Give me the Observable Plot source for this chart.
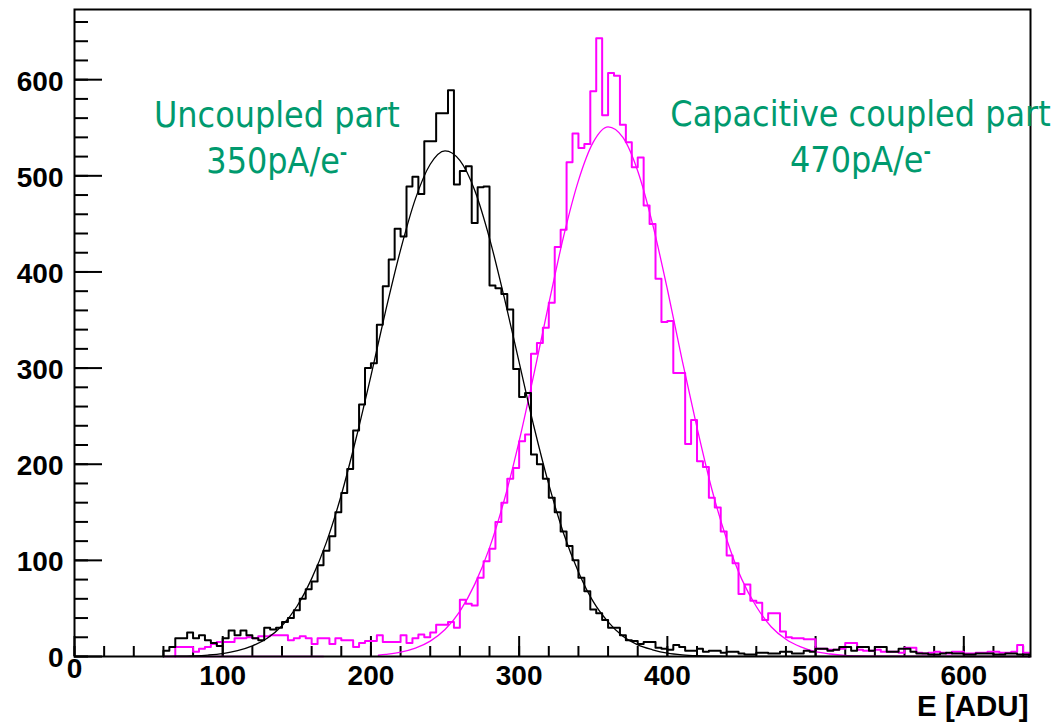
<!DOCTYPE html>
<html><head><meta charset="utf-8">
<script src="https://cdn.jsdelivr.net/npm/d3@7"></script>
<script src="https://cdn.jsdelivr.net/npm/@observablehq/plot@0.6"></script>
<style>html,body{margin:0;padding:0;background:#fff;} #chart svg{display:block;}</style>
</head><body><div id="chart"></div>
<script>
// ---- data ----
const binWidth = 4;                 // ADU per histogram bin
const blackStart = 60;              // first non-empty bin of the uncoupled histogram
const blackCounts = [
  6,10,19,19,25,19,22,17,14,11,
  19,27,22,27,22,19,17,30,28,30,
  36,40,48,60,70,78,95,110,125,150,
  170,195,235,262,300,305,345,385,413,445,
  437,489,499,481,536,536,565,565,589,491,
  505,510,451,488,489,386,383,377,361,299,
  270,274,210,200,185,165,150,130,115,100,
  82,68,49,45,38,30,30,22,17,16,
  13,15,15,9,8,7,12,10,6,6,
  8,5,6,6,4,5,5,3,2,2,
  4,4,3,3,5,5,3,3,6,5,
  8,8,6,7,10,10,6,10,10,6,
  10,10,5,5,8,8,5,3,3,2,
  2,3,4,3,3,2,2,3,3,3,
  2,2,3,3,2,2
];
const magentaStart = 68;            // first non-empty bin of the capacitive coupled histogram
const magentaCounts = [
  10,10,10,5,8,10,13,15,15,15,
  19,19,20,19,21,21,22,22,22,17,
  19,21,19,13,19,19,13,19,17,17,
  10,14,16,16,22,15,15,15,22,14,
  19,23,20,25,33,33,36,30,59,55,
  53,82,99,112,140,160,185,196,224,231,
  315,326,342,368,426,444,514,544,529,533,
  588,643,563,607,604,553,535,509,519,469,
  450,393,348,349,295,295,221,246,203,197,
  165,155,130,105,97,65,75,58,56,38,
  45,45,26,20,19,19,18,18,8,8,
  7,7,8,14,14,7,6,6,7,5,
  5,5,4,9,9,4,3,4,5,4,
  3,5,5,3,3,4,4,5,5,4,
  4,5,12,4
];
// fitted curves
const blackFitX = [60,70,80,90,100,110,120,130,140,150,160,170,180,190,200,210,220,230,240,250,260,270,280,290,300,310,320,330,340,350,360,370,380,390,400,410,420,430,440,450,645];
const blackFitY = [0.1,0.3,0.7,1.5,3,6,11,19,32,52,81,119,168,227,292,360,423,476,512,526,516,485,435,373,306,239,179,128,88,57,36,21,12,7,3.5,1.7,0.8,0.4,0.2,0.1,0];
const magentaFitX = [60,168,null,205,210,220,230,240,250,260,270,280,290,300,310,320,330,340,350,360,370,380,390,400,410,420,430,440,450,460,470,480,490,500,510,520,530,540,645];
const magentaFitY = [0,0,null,1.3,2.2,4.5,8.7,16,28,47,75,113,163,224,294,367,437,495,535,551,540,505,450,382,308,238,174,122,81,52,31,18,10,5,2.6,1.2,0.6,0.3,0];

const yTickLabels = [0,100,200,300,400,500,600];
const yMinorTicks = [0,20,40,60,80,100,120,140,160,180,200,220,240,260,280,300,320,340,360,380,400,420,440,460,480,500,520,540,560,580,600,620,640,660];
const xTickLabels = [0,100,200,300,400,500,600];
const xMinorTicks = [0,20,40,60,80,100,120,140,160,180,200,220,240,260,280,300,320,340,360,380,400,420,440,460,480,500,520,540,560,580,600,620,640];
const xTitle = "E [ADU]";
const noteLeft = "Uncoupled part\n350pA/e\u207B";
const noteRight = "Capacitive coupled part\n470pA/e\u207B";

// ---- build step outlines ----
function steps(start, counts) {
  const pts = [{x: start, y: 0}];
  counts.forEach((c, i) => pts.push({x: start + i * binWidth, y: c}));
  const end = start + counts.length * binWidth;
  pts.push({x: end, y: counts[counts.length - 1]}, {x: end, y: 0});
  return pts;
}
const blackSteps = steps(blackStart, blackCounts);
const magentaSteps = steps(magentaStart, magentaCounts);
const blackFit = blackFitX.map((x, i) => ({x, y: blackFitY[i]}));
const magentaFit = magentaFitX.map((x, i) => ({x, y: magentaFitY[i]}));

const W = 1059, H = 723;
const mL = 74, mR = 29, mT = 9, mB = 67;
const fw = W - mL - mR, fh = H - mT - mB;
const labelFont = "Liberation Sans, Arial, Helvetica, sans-serif";
const noteFont = "DejaVu Sans Condensed, DejaVu Sans, sans-serif";
const green = "#009a6e";

const chart = Plot.plot({
  width: W, height: H,
  marginLeft: mL, marginRight: mR, marginTop: mT, marginBottom: mB,
  x: {domain: [0, 645], axis: null},
  y: {domain: [0, 673], axis: null},
  style: {background: "white", overflow: "visible"},
  marks: [
    // ticks (inside the frame, ROOT style)
    Plot.tickY(yMinorTicks, {y: d => d, stroke: "black", strokeWidth: 2, insetRight: fw - 14}),
    Plot.tickY(yTickLabels, {y: d => d, stroke: "black", strokeWidth: 2, insetRight: fw - 28}),
    Plot.tickX(xMinorTicks, {x: d => d, stroke: "black", strokeWidth: 2, insetTop: fh - 10}),
    Plot.tickX(xTickLabels, {x: d => d, stroke: "black", strokeWidth: 2, insetTop: fh - 20}),
    // magenta: capacitive coupled part
    Plot.line(magentaSteps, {x: "x", y: "y", curve: "step-after", stroke: "#ff00ff", strokeWidth: 2}),
    Plot.line(magentaFit, {x: "x", y: "y", curve: "monotone-x", stroke: "#ff00ff", strokeWidth: 1.3}),
    // black: uncoupled part
    Plot.line(blackSteps, {x: "x", y: "y", curve: "step-after", stroke: "black", strokeWidth: 2}),
    Plot.line(blackFit, {x: "x", y: "y", curve: "monotone-x", stroke: "black", strokeWidth: 1.3}),
    Plot.frame({stroke: "black", strokeWidth: 2}),
    // tick labels
    Plot.text(yTickLabels, {y: d => d, frameAnchor: "left", text: d => String(d), textAnchor: "end", dx: -11, dy: 2,
      fontSize: 28, fontWeight: "bold", fontFamily: labelFont, fill: "black"}),
    Plot.text(xTickLabels.filter(d => d > 0), {x: d => d, frameAnchor: "bottom", text: d => String(d), lineAnchor: "top", dy: 9,
      fontSize: 28, fontWeight: "bold", fontFamily: labelFont, fill: "black"}),
    Plot.text(xTickLabels.filter(d => d === 0), {x: d => d, frameAnchor: "bottom", text: d => String(d), lineAnchor: "top", dy: 2,
      fontSize: 28, fontWeight: "bold", fontFamily: labelFont, fill: "black"}),
    Plot.text([xTitle], {frameAnchor: "bottom-right", text: d => d, textAnchor: "end", lineAnchor: "bottom", dx: -2, dy: 59,
      fontSize: 29.5, fontWeight: "bold", fontFamily: labelFont, fill: "black"}),
    // annotations
    Plot.text([noteLeft], {x: 136.5, y: 502.5, text: d => d, textAnchor: "middle", lineAnchor: "bottom",
      fontSize: 35.5, lineHeight: 46 / 35.5, fontFamily: noteFont, fill: green}),
    Plot.text([noteRight], {x: 530.3, y: 503.7, text: d => d, textAnchor: "middle", lineAnchor: "bottom",
      fontSize: 35.5, lineHeight: 46 / 35.5, fontFamily: noteFont, fill: green})
  ]
});
// render the superscript minus as a small raised dash, like the reference
d3.select(chart).selectAll("tspan").each(function() {
  const t = this.textContent;
  if (t.endsWith("\u207B") && this.childElementCount === 0) {
    this.textContent = t.slice(0, -1);
    d3.select(this).append("tspan").attr("font-size", 20).attr("font-weight", "bold").attr("dy", -14).text("-");
  }
});
document.getElementById("chart").appendChild(chart);
</script>
</body></html>
